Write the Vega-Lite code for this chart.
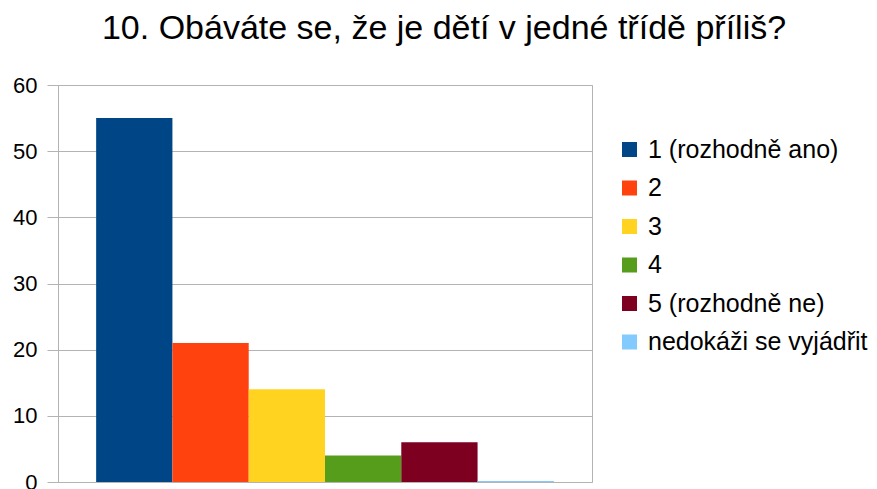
{
  "$schema": "https://vega.github.io/schema/vega-lite/v6.json",
  "autosize": "none",
  "width": 534,
  "height": 397,
  "padding": {"left": 58, "top": 85, "right": 285, "bottom": 7},
  "background": "white",
  "title": {
    "text": "10. Obáváte se, že je dětí v jedné třídě příliš?",
    "font": "Liberation Sans",
    "fontSize": 34,
    "fontWeight": "normal",
    "color": "#000000",
    "anchor": "middle",
    "baseline": "alphabetic",
    "dx": 119,
    "offset": 1
  },
  "config": {
    "view": {"stroke": "#b3b3b3", "strokeWidth": 1},
    "font": "Liberation Sans"
  },
  "data": {
    "values": [
      {"odpoved": "1 (rozhodně ano)", "pocet": 55},
      {"odpoved": "2", "pocet": 21},
      {"odpoved": "3", "pocet": 14},
      {"odpoved": "4", "pocet": 4},
      {"odpoved": "5 (rozhodně ne)", "pocet": 6},
      {"odpoved": "nedokáži se vyjádřit", "pocet": 0.15}
    ]
  },
  "mark": {"type": "bar"},
  "encoding": {
    "x": {
      "field": "odpoved",
      "type": "nominal",
      "sort": null,
      "scale": {"paddingInner": 0, "paddingOuter": 0.5},
      "axis": {"labels": false, "ticks": false, "domain": false, "title": null, "grid": false}
    },
    "y": {
      "field": "pocet",
      "type": "quantitative",
      "scale": {"domain": [0, 60], "nice": false},
      "axis": {
        "values": [0, 10, 20, 30, 40, 50, 60],
        "title": null,
        "grid": true,
        "gridColor": "#b3b3b3",
        "gridOpacity": 1,
        "domain": true,
        "domainColor": "#b3b3b3",
        "tickColor": "#b3b3b3",
        "tickSize": 11,
        "labelPadding": 10,
        "labelFontSize": 22,
        "labelColor": "#000000",
        "labelFont": "Liberation Sans"
      }
    },
    "color": {
      "field": "odpoved",
      "type": "nominal",
      "sort": null,
      "scale": {
        "domain": ["1 (rozhodně ano)", "2", "3", "4", "5 (rozhodně ne)", "nedokáži se vyjádřit"],
        "range": ["#004586", "#ff420e", "#ffd320", "#579d1c", "#7e0021", "#83caff"]
      },
      "legend": {
        "title": null,
        "orient": "none",
        "legendX": 559,
        "legendY": 52,
        "symbolType": "square",
        "symbolSize": 225,
        "symbolStrokeWidth": 0,
        "labelFontSize": 25,
        "labelFont": "Liberation Sans",
        "labelColor": "#000000",
        "labelOffset": 6,
        "rowPadding": 12.5,
        "labelLimit": 300
      }
    }
  }
}
